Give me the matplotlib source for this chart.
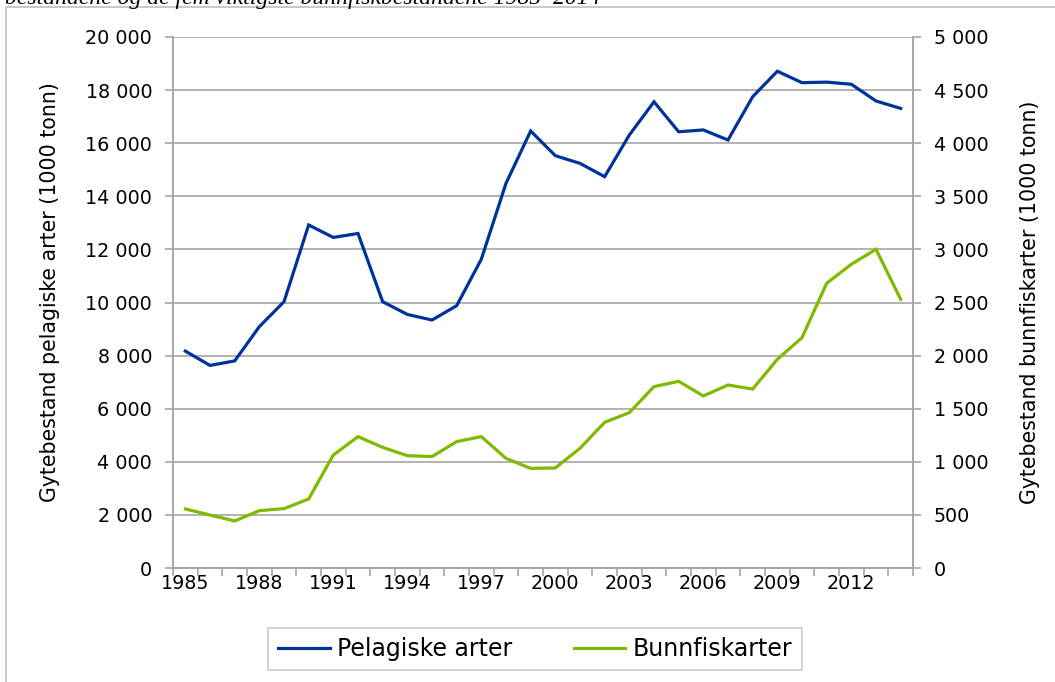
import matplotlib.pyplot as plt
from matplotlib.patches import Rectangle
from matplotlib.ticker import FuncFormatter, FixedLocator

years = list(range(1985, 2015))
pelagiske = [8170, 7630, 7800, 9090, 10030, 12920, 12450, 12600, 10030, 9550,
             9340, 9880, 11630, 14490, 16460, 15530, 15240, 14740, 16310, 17560,
             16430, 16500, 16120, 17750, 18710, 18280, 18300, 18220, 17590, 17310]
bunnfisk = [556, 499, 443, 540, 559, 650, 1064, 1237, 1136, 1058,
            1049, 1190, 1237, 1032, 938, 942, 1127, 1372, 1463, 1708,
            1758, 1620, 1723, 1685, 1965, 2169, 2681, 2860, 3001, 2530]
label_years = years[::3]

BLUE = '#003399'
GREEN = '#7fba00'
GRID = '#a6a6a6'

plt.rcParams['font.family'] = ['DejaVu Sans']
fs = 13.8

fig = plt.figure(figsize=(10.55, 6.82), dpi=100)
W, H = 1055, 682

# outer frame (partly outside picture)
fig.patches.append(Rectangle((6 / W, -0.1), 1.2, 1 - 7 / H + 0.1, transform=fig.transFigure,
                             fill=False, edgecolor='#bfbfbf', linewidth=1.2))
# caption cut off at the top, as in the source
fig.text(0.005, 1 - 4 / H, 'bestandene og de fem viktigste bunnfiskbestandene 1985\u20132014',
         family='Liberation Serif', style='italic', fontsize=17, va='baseline', ha='left')

left, right, top, bottom = 173, 913, 37, 568
ax = fig.add_axes([left / W, 1 - bottom / H, (right - left) / W, (bottom - top) / H])
ax2 = ax.twinx()

x = list(range(len(years)))
ax.plot(x, pelagiske, color=BLUE, lw=2.3, label='Pelagiske arter', solid_joinstyle='miter')
ax2.plot(x, bunnfisk, color=GREEN, lw=2.3, label='Bunnfiskarter', solid_joinstyle='miter')

ax.set_xlim(-0.5, len(years) - 0.5)
ax.set_ylim(0, 20000)
ax2.set_ylim(0, 5000)
ax.set_yticks(range(0, 20001, 2000))
ax2.set_yticks(range(0, 5001, 500))

fmt = FuncFormatter(lambda v, p: f'{int(v):,}'.replace(',', ' '))
ax.yaxis.set_major_formatter(fmt)
ax2.yaxis.set_major_formatter(fmt)

ax.set_xticks([years.index(y) for y in label_years])
ax.set_xticklabels([str(y) for y in label_years])
ax.xaxis.set_minor_locator(FixedLocator([i - 0.5 for i in range(len(years) + 1)]))
ax.tick_params(axis='x', which='major', length=0, labelsize=fs, pad=4)
ax.tick_params(axis='x', which='minor', length=6, color=GRID, width=1.2, direction='out')
ax.tick_params(axis='y', length=6, color=GRID, width=1.2, labelsize=fs, pad=9)
ax2.tick_params(axis='y', length=6, color=GRID, width=1.2, labelsize=fs, pad=9)

ax.grid(axis='y', color=GRID, lw=1.2)
ax.set_axisbelow(True)
for a in (ax, ax2):
    a.spines['top'].set_visible(False)
    for s in ('left', 'right', 'bottom'):
        a.spines[s].set_color(GRID)
        a.spines[s].set_linewidth(1.2)

ax.set_ylabel('Gytebestand pelagiske arter (1000 tonn)', fontsize=14.8)
ax2.set_ylabel('Gytebestand bunnfiskarter (1000 tonn)', fontsize=14.8)
ax.yaxis.set_label_coords(-(left - 60) / (right - left), 0.52)
ax2.yaxis.set_label_coords(1 + (1020 - right) / (right - left), 0.5)

h1, l1 = ax.get_legend_handles_labels()
h2, l2 = ax2.get_legend_handles_labels()
leg = fig.legend(h1 + h2, l1 + l2, loc='center', bbox_to_anchor=(535 / W, 1 - 649 / H),
                 ncol=2, fontsize=17, frameon=True, fancybox=False,
                 edgecolor='#bfbfbf', handlelength=2.2, handletextpad=0.3,
                 columnspacing=2.6, borderpad=0.4, borderaxespad=0)
leg.get_frame().set_linewidth(1.2)

fig.savefig('out.png', dpi=100)
